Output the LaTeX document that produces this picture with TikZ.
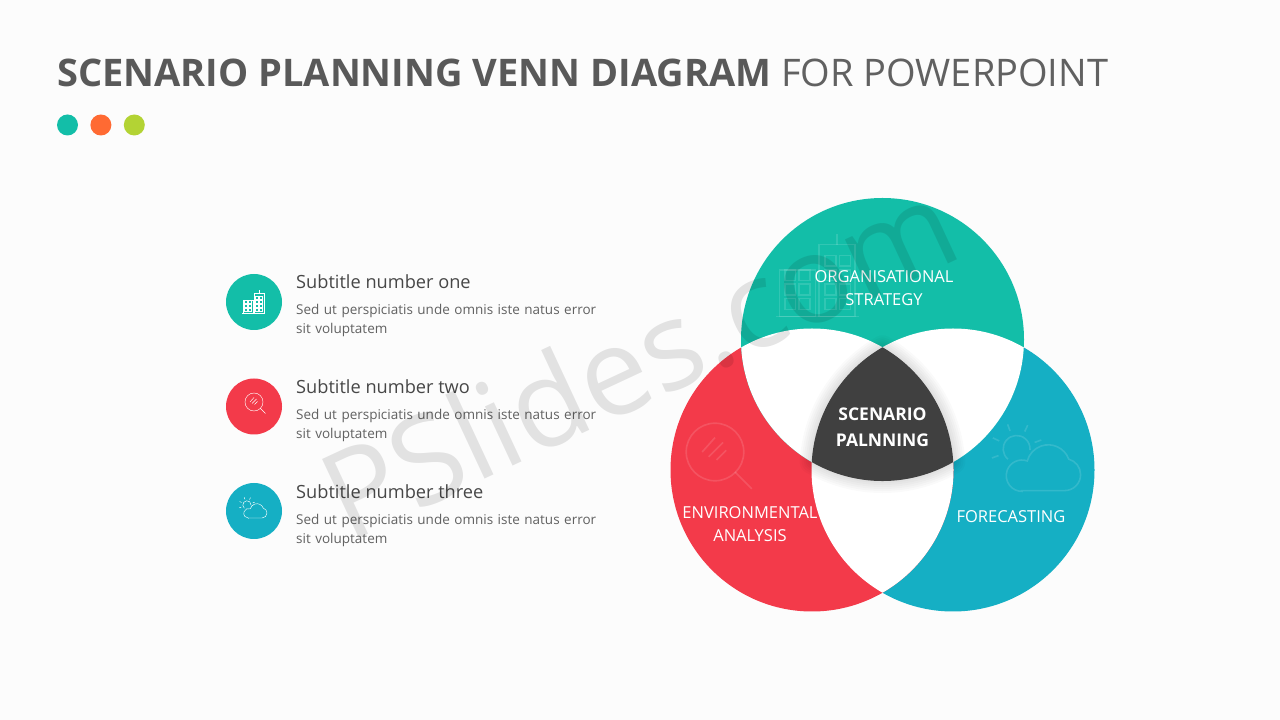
\documentclass[tikz,border=0pt]{standalone}
\usepackage{fontspec}
\usepackage{xcolor}
\setmainfont{Open Sans}
\usetikzlibrary{positioning}
\definecolor{cgreen}{HTML}{13BEA8}
\definecolor{cred}{HTML}{F33A4A}
\definecolor{cblue}{HTML}{15AFC4}
\definecolor{corange}{HTML}{FF6A33}
\definecolor{clime}{HTML}{B3D334}
\definecolor{cdark}{HTML}{404040}
\tikzset{
	dot/.style={circle, fill=#1, minimum size=21pt, inner sep=0pt},
	badge/.style={circle, fill=#1, minimum size=56pt, inner sep=0pt},
	subtitle/.style={font=\fontsize{18.2}{20}\selectfont, text=black!72, inner sep=0pt, anchor=base west},
	bodytext/.style={font=\fontsize{13.5}{19}\selectfont, text=black!62, inner sep=0pt, anchor=north west, align=left, text width=310pt},
	venntext/.style={font=\fontsize{16.5}{23}\selectfont, text=white, inner sep=0pt, align=center},
	pics/building/.style={code={
		\draw (-12,-11) -- (11,-11);
		\draw (-11,-11) rectangle (-1,2);
		\draw (0,-11) rectangle (10,9);
		\draw (5,9) -- (5,12);
		\foreach \x in {-9.5,-5.5} \foreach \y in {-9,-5,-1}
			\draw (\x,\y) rectangle ++(3,3);
		\foreach \x in {1.7,5.7} \foreach \y in {-9,-5,-1,3}
			\draw (\x,\y) rectangle ++(3,3);
	}},
	pics/lens/.style={code={
		\draw (0,0) circle (9);
		\draw (6.2,-6.2) -- (11.5,-11.5);
		\draw (-4,0) -- (0,4.5);
		\draw (-2,-1.5) -- (2.5,3);
		\draw (0.5,-2.5) -- (3.5,0.5);
	}},
	pics/weather/.style={code={
		\draw (-5.4,-8) -- (8,-8) arc[start angle=-90, end angle=75, radius=5]
			arc[start angle=20, end angle=165, radius=6.8]
			arc[start angle=70, end angle=270, radius=4.9] -- cycle;
		\draw (-9.7,1.8) arc[start angle=230, end angle=-5, radius=4.2];
		\foreach \a in {20,65,110,155,200}
			\draw (-7,5) ++(\a:6) -- ++(\a:2.2);
	}}
}
\newcommand{\redcircle}{(812,250) circle (141.5)}
\newcommand{\bluecircle}{(953,250) circle (141.5)}
\newcommand{\greencircle}{(882.5,380.5) circle (141.5)}
\newcommand{\corepath}{(882.5,372.7) arc[start angle=60.1, end angle=3.2, radius=141.5]
	arc[start angle=-60, end angle=-120, radius=141.5]
	arc[start angle=176.8, end angle=119.9, radius=141.5] -- cycle}

\begin{document}
\begin{tikzpicture}[x=1pt, y=1pt]
	\useasboundingbox (0,0) rectangle (1280,720);
	\fill[black!1] (0,0) rectangle (1280,720);

	% heading
	\node[inner sep=0pt, anchor=base west, text=black!65, font=\fontsize{38}{44}\selectfont] (title) at (57,633.5) {\textbf{SCENARIO PLANNING VENN DIAGRAM} {\color{black!62}FOR POWERPOINT}};
	\node[dot=cgreen] (dotone) at (67.5,595) {};
	\node[dot=corange, right=12pt of dotone] (dottwo) {};
	\node[dot=clime, right=12pt of dottwo] (dotthree) {};

	% list on the left
	\node[badge=cgreen] (badgeone) at (254,418) {};
	\node[badge=cred] (badgetwo) at (254,313.5) {};
	\node[badge=cblue] (badgethree) at (254,209) {};
	\pic[white, line width=0.45pt] at (badgeone) {building};
	\pic[white, line width=0.45pt] at (254,318) {lens};
	\pic[white, line width=0.45pt] at (254,210) {weather};

	\node[subtitle] (subone) at (296,431) {Subtitle number one};
	\node[subtitle] (subtwo) at (296,326) {Subtitle number two};
	\node[subtitle] (subthree) at (296,221) {Subtitle number three};
	\node[bodytext, below=15pt of subone.base west, anchor=north west] (textone) {Sed ut perspiciatis unde omnis iste natus error\\sit voluptatem};
	\node[bodytext, below=15pt of subtwo.base west, anchor=north west] (texttwo) {Sed ut perspiciatis unde omnis iste natus error\\sit voluptatem};
	\node[bodytext, below=15pt of subthree.base west, anchor=north west] (textthree) {Sed ut perspiciatis unde omnis iste natus error\\sit voluptatem};

	% venn
	\fill[cblue] \bluecircle;
	\fill[cred] \redcircle;
	\fill[cgreen] \greencircle;
	\begin{scope}
		\clip \greencircle;
		\fill[white] \redcircle;
		\fill[white] \bluecircle;
	\end{scope}
	\begin{scope}
		\clip \redcircle;
		\fill[white] \bluecircle;
	\end{scope}
	\foreach \w in {4,8,...,24}
		\draw[black, opacity=0.02, line width=\w pt, line join=round] \corepath;
	\fill[cdark] \corepath;

	\pic[white, opacity=0.13, line width=1.6pt, scale=3.6] at (819,443) {building};
	\pic[white, opacity=0.13, line width=1.6pt, scale=3.2] at (715,268) {lens};
	\pic[white, opacity=0.13, line width=1.6pt, scale=3.2] at (1039,255) {weather};

	\node[venntext] (organisational) at (884,432) {ORGANISATIONAL\\STRATEGY};
	\node[venntext] (environmental) at (750,196) {ENVIRONMENTAL\\ANALYSIS};
	\node[venntext] (forecasting) at (1011,203) {FORECASTING};
	\node[venntext, font=\bfseries\fontsize{17.5}{26}\selectfont] (core) at (882.5,293) {SCENARIO\\PALNNING};

	% watermark
	\node[black, opacity=0.1, rotate=25, inner sep=0pt, font=\fontsize{122}{130}\selectfont] (mark) at (638,362) {PSlides.com};
\end{tikzpicture}
\end{document}
